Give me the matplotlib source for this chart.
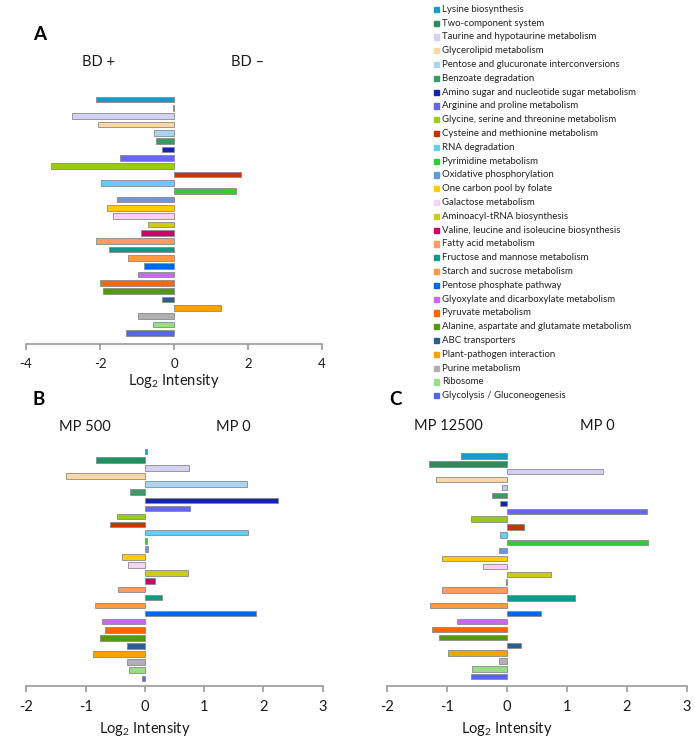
import matplotlib
matplotlib.use("Agg")
import matplotlib.pyplot as plt
from matplotlib.patches import Rectangle
import numpy as np

plt.rcParams['font.family'] = ['Lato', 'DejaVu Sans']

pathways = [
    "Lysine biosynthesis", "Two-component system", "Taurine and hypotaurine metabolism",
    "Glycerolipid metabolism", "Pentose and glucuronate interconversions", "Benzoate degradation",
    "Amino sugar and nucleotide sugar metabolism", "Arginine and proline metabolism",
    "Glycine, serine and threonine metabolism", "Cysteine and methionine metabolism",
    "RNA degradation", "Pyrimidine metabolism", "Oxidative phosphorylation",
    "One carbon pool by folate", "Galactose metabolism", "Aminoacyl-tRNA biosynthesis",
    "Valine, leucine and isoleucine biosynthesis", "Fatty acid metabolism",
    "Fructose and mannose metabolism", "Starch and sucrose metabolism",
    "Pentose phosphate pathway", "Glyoxylate and dicarboxylate metabolism",
    "Pyruvate metabolism", "Alanine, aspartate and glutamate metabolism", "ABC transporters",
    "Plant-pathogen interaction", "Purine metabolism", "Ribosome", "Glycolysis / Gluconeogenesis",
]

colors = [
    "#1a9ac9", "#2e8b5f", "#d2d2f6", "#fdd6a8", "#a9d5f2", "#3a9a64",
    "#1424b0", "#6666ee", "#99cc11", "#cc3300",
    "#66ccf5", "#33cc33", "#6699dd",
    "#ffcc00", "#f8d2f5", "#cccc11",
    "#cc0066", "#ff9966",
    "#119988", "#ff9944",
    "#0066ee", "#cc66ee",
    "#ff6600", "#559911", "#2a5f8f",
    "#f5a300", "#b0b0b0", "#99dd88", "#5566ee",
]

# Log2 intensity, BD+ vs BD-
vals_a = [-2.11, -0.02, -2.76, -2.05, -0.53, -0.48, -0.32, -1.47, -3.32, 1.80,
          -1.96, 1.67, -1.54, -1.80, -1.66, -0.71, -0.89, -2.12, -1.76, -1.25,
          -0.80, -0.97, -1.99, -1.92, -0.33, 1.27, -0.97, -0.56, -1.31]
# MP 500 vs MP 0
vals_b = [0.04, -0.82, 0.74, -1.33, 1.72, -0.26, 2.25, 0.76, -0.47, -0.59,
          1.74, 0.04, 0.06, -0.38, -0.29, 0.73, 0.17, -0.46, 0.29, -0.85,
          1.87, -0.73, -0.68, -0.76, -0.30, -0.87, -0.31, -0.27, -0.045]
# MP 12500 vs MP 0
vals_c = [-0.77, -1.31, 1.60, -1.18, -0.08, -0.25, -0.12, 2.33, -0.61, 0.29,
          -0.12, 2.35, -0.14, -1.08, -0.41, 0.73, -0.01, -1.09, 1.13, -1.29,
          0.56, -0.83, -1.26, -1.14, 0.24, -0.98, -0.14, -0.58, -0.61]

W, H = 695, 738


def fx(x):
    return x / W


def fy(y):
    return 1 - y / H


def make_axes(fig, x0, x1, ytop, ybot):
    return fig.add_axes([fx(x0), fy(ybot), fx(x1) - fx(x0), (ybot - ytop) / H])


def draw_panel(ax, vals, xlim, ticks, ylim, tick_size, label_y):
    pos = np.arange(len(vals))
    ax.barh(pos, vals, height=0.68, color=colors, edgecolor="#8a8a8a", linewidth=0.6)
    ax.set_xlim(*xlim)
    ax.set_ylim(*ylim)
    ax.set_xticks(ticks)
    ax.set_xticklabels([str(t) for t in ticks])
    ax.set_yticks([])
    for s in ["top", "left", "right"]:
        ax.spines[s].set_visible(False)
    ax.spines["bottom"].set_color("#999999")
    ax.spines["bottom"].set_linewidth(1.2)
    ax.tick_params(axis="x", colors="#999999", length=4, width=1.2, labelsize=tick_size,
                   labelcolor="#1a1a1a", pad=6)
    ax.patch.set_alpha(0)
    ax.text(0, label_y, "Log$_2$ Intensity", transform=ax.get_xaxis_transform(),
            ha="center", va="center", fontsize=10.5, color="#1a1a1a")


plt.rcParams['mathtext.fontset'] = 'custom'
plt.rcParams['mathtext.rm'] = 'Lato'

fig = plt.figure(figsize=(6.95, 7.38), dpi=100)

# panel A
ax_a = make_axes(fig, 26, 322, 90, 344)
draw_panel(ax_a, vals_a, (-4, 4), [-4, -2, 0, 2, 4], (29.32, -1.14), 9.5, -0.146)

# panel B
ax_b = make_axes(fig, 26.4, 322.7, 440, 685.7)
draw_panel(ax_b, vals_b, (-2, 3), [-2, -1, 0, 1, 2, 3], (28.91, -1.45), 10.5, -0.176)

# panel C
ax_c = make_axes(fig, 387.3, 686.7, 445, 685.7)
draw_panel(ax_c, vals_c, (-2, 3), [-2, -1, 0, 1, 2, 3], (29.14, -1.40), 10.5, -0.18)

# panel letters and group labels
for letter, x, y in [("A", 40, 35), ("B", 39, 400), ("C", 395, 400)]:
    fig.text(fx(x), fy(y), letter, fontsize=13.5, fontweight="bold", ha="center", va="center")
for txt, x, y in [("BD +", 98, 62), ("BD \u2013", 248, 62),
                  ("MP 500", 85, 427), ("MP 0", 233, 427),
                  ("MP 12500", 448, 426), ("MP 0", 597, 426)]:
    fig.text(fx(x), fy(y), txt, fontsize=10.5, ha="center", va="center", color="#1a1a1a")

# legend
for i, (name, c) in enumerate(zip(pathways, colors)):
    y = 9.3 + i * 13.8
    fig.patches.append(Rectangle((fx(434), fy(y + 2.6)), 5 / W, 5.2 / H, color=c,
                                 transform=fig.transFigure, figure=fig))
    fig.text(fx(442), fy(y), name, fontsize=6.9, ha="left", va="center", color="#222222")

fig.savefig("out.png", dpi=100)
